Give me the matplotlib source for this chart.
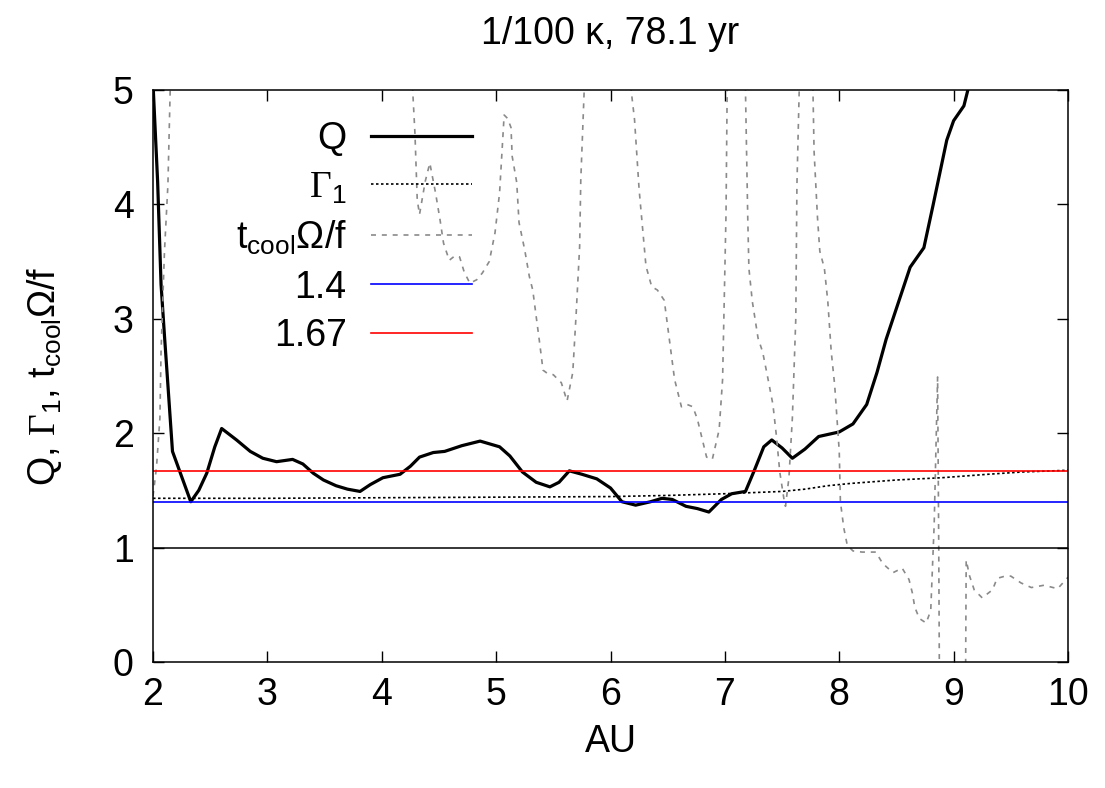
import numpy as np
import matplotlib
matplotlib.use('Agg')
import matplotlib.pyplot as plt

plt.rcParams['font.family'] = ['Liberation Sans', 'DejaVu Sans']
plt.rcParams['mathtext.fontset'] = 'custom'
plt.rcParams['mathtext.rm'] = 'Liberation Sans'
plt.rcParams['mathtext.it'] = 'Liberation Sans:italic'
plt.rcParams['mathtext.bf'] = 'Liberation Sans:bold'
plt.rcParams['mathtext.sf'] = 'Liberation Serif'   # serif Gamma like the original

FS = 27

# Toomre Q
q_r = [2.00, 2.04, 2.07, 2.10, 2.13, 2.17, 2.25, 2.33, 2.40, 2.47, 2.54, 2.60, 2.73, 2.85,
       2.96, 3.08, 3.15, 3.22, 3.31, 3.40, 3.49, 3.60, 3.70, 3.81, 3.90, 4.01, 4.16, 4.25,
       4.33, 4.45, 4.55, 4.70, 4.86, 5.03, 5.12, 5.23, 5.35, 5.47, 5.55, 5.64, 5.75, 5.88,
       6.00, 6.10, 6.22, 6.35, 6.45, 6.54, 6.66, 6.76, 6.86, 6.97, 7.06, 7.18, 7.26, 7.34,
       7.41, 7.50, 7.59, 7.70, 7.82, 8.00, 8.12, 8.24, 8.33, 8.41, 8.52, 8.62, 8.74, 8.82,
       8.94, 9.00, 9.09, 9.13]
q_val = [5.05, 4.20, 3.30, 2.85, 2.42, 1.84, 1.62, 1.40, 1.50, 1.65, 1.88, 2.04, 1.94, 1.84,
         1.78, 1.75, 1.76, 1.77, 1.73, 1.65, 1.59, 1.54, 1.51, 1.49, 1.55, 1.61, 1.64, 1.71,
         1.79, 1.83, 1.84, 1.89, 1.93, 1.88, 1.80, 1.66, 1.57, 1.53, 1.57, 1.67, 1.64, 1.60,
         1.52, 1.40, 1.37, 1.40, 1.43, 1.42, 1.36, 1.34, 1.31, 1.42, 1.47, 1.49, 1.68, 1.88,
         1.94, 1.87, 1.78, 1.86, 1.97, 2.01, 2.08, 2.25, 2.53, 2.82, 3.15, 3.45, 3.62, 3.99,
         4.56, 4.73, 4.86, 5.02]

# Gamma_1
g_r = [2.0, 3.0, 4.0, 5.0, 6.0, 6.5, 7.0, 7.5, 7.7, 7.9, 8.1, 8.5, 8.9, 9.3, 9.6, 10.0]
g_val = [1.43, 1.43, 1.435, 1.44, 1.445, 1.455, 1.47, 1.49, 1.51, 1.54, 1.56, 1.59, 1.61,
         1.64, 1.66, 1.675]

# t_cool Omega / f  (values of 8 / -1 are off the plotted range)
t_r = [2.00, 2.03, 2.06, 2.07, 2.10, 2.13, 2.15, 2.20, 4.20, 4.27, 4.29, 4.31, 4.33, 4.38,
       4.42, 4.47, 4.51, 4.54, 4.59, 4.64, 4.68, 4.72, 4.77, 4.83, 4.88, 4.94, 4.99, 5.03,
       5.07, 5.10, 5.13, 5.14, 5.18, 5.20, 5.25, 5.29, 5.32, 5.35, 5.38, 5.41, 5.45, 5.50,
       5.57, 5.62, 5.67, 5.70, 5.73, 5.74, 5.77, 5.85, 6.10, 6.18, 6.21, 6.25, 6.31, 6.36,
       6.41, 6.47, 6.53, 6.56, 6.62, 6.67, 6.72, 6.76, 6.84, 6.89, 6.95, 6.98, 7.01, 7.02,
       7.08, 7.15, 7.18, 7.20, 7.21, 7.24, 7.29, 7.33, 7.37, 7.42, 7.45, 7.48, 7.52, 7.53,
       7.56, 7.59, 7.62, 7.63, 7.65, 7.70, 7.75, 7.77, 7.78, 7.81, 7.83, 7.87, 7.90, 7.93,
       7.96, 7.98, 8.00, 8.01, 8.04, 8.07, 8.12, 8.20, 8.32, 8.38, 8.47, 8.55, 8.61, 8.64,
       8.66, 8.70, 8.76, 8.80, 8.83, 8.86, 8.87, 8.88, 9.10, 9.11, 9.14, 9.18, 9.25, 9.34,
       9.38, 9.45, 9.50, 9.59, 9.68, 9.79, 9.91, 10.0]
t_val = [1.45, 1.70, 2.13, 2.71, 3.59, 4.17, 5.0, 8, 8, 5.0, 4.62, 4.04, 3.91, 4.20,
         4.36, 4.10, 3.86, 3.66, 3.51, 3.55, 3.54, 3.41, 3.31, 3.34, 3.40, 3.50, 3.75, 4.10,
         4.78, 4.75, 4.67, 4.42, 4.19, 3.84, 3.60, 3.37, 3.25, 3.02, 2.79, 2.55, 2.52, 2.51,
         2.44, 2.28, 2.53, 3.05, 3.63, 4.21, 5.0, 8, 8, 5.0, 4.74, 4.13, 3.46, 3.28,
         3.25, 3.16, 2.70, 2.47, 2.23, 2.25, 2.23, 2.12, 1.79, 1.77, 2.03, 2.47, 3.92, 5.0,
         8, 8, 5.0, 3.88, 3.44, 3.15, 2.83, 2.71, 2.51, 2.25, 1.98, 1.66, 1.40, 1.36,
         1.61, 2.13, 3.00, 4.17, 5.0, 8, 8, 5.0, 4.46, 3.88, 3.59, 3.44, 3.15, 2.71,
         2.42, 2.13, 1.84, 1.40, 1.17, 1.02, 0.97, 0.96, 0.96, 0.86, 0.78, 0.82, 0.72, 0.60,
         0.48, 0.38, 0.34, 0.45, 1.20, 2.49, 1.00, -1, -1, 0.89, 0.75, 0.63, 0.56, 0.63,
         0.73, 0.75, 0.75, 0.69, 0.65, 0.67, 0.64, 0.74]

ref_levels = [1.4, 1.67]
ref_colors = ['#0000ff', '#ff0000']
x_ticks = [2, 3, 4, 5, 6, 7, 8, 9, 10]
y_ticks = [0, 1, 2, 3, 4, 5]

fig = plt.figure(figsize=(11.05, 7.88), dpi=100)
ax = fig.add_axes([0.1385, 0.16, 0.828, 0.726])

lq, = ax.plot(q_r, q_val, color='k', lw=2.3)
lg, = ax.plot(g_r, g_val, color='k', lw=1.2, dashes=(1.5, 1.5))
lt, = ax.plot(t_r, t_val, color='#8a8a8a', lw=1.2, dashes=(3.0, 3.5))
l14 = ax.axhline(ref_levels[0], color=ref_colors[0], lw=1.2)
l167 = ax.axhline(ref_levels[1], color=ref_colors[1], lw=1.2)
ax.axhline(1, color='k', lw=1.1)

ax.set_xlim(2, 10)
ax.set_ylim(0, 5)
ax.set_xticks(x_ticks)
ax.set_yticks(y_ticks)
ax.tick_params(direction='in', top=True, right=True, length=8, width=1,
               labelsize=FS)
ax.tick_params(axis='x', pad=11)
ax.tick_params(axis='y', pad=14)
for s in ax.spines.values():
    s.set_linewidth(1.1)

ax.set_xlabel('AU', fontsize=FS, labelpad=8)
ax.set_ylabel(r'Q, $\mathsf{\Gamma}_1$, t$_{\mathrm{cool}}$Ω/f', fontsize=FS, labelpad=35)
ax.set_title('1/100 κ, 78.1 yr', fontsize=FS, pad=33)

ax.legend([lq, lg, lt, l14, l167],
          ['Q', r'$\mathsf{\Gamma}_1$', r't$_{\mathrm{cool}}$Ω/f', '1.4', '1.67'],
          loc='upper right', bbox_to_anchor=(0.349, 0.946), markerfirst=False,
          frameon=False, fontsize=FS, handlelength=2.7, handletextpad=0.65,
          labelspacing=0.34, borderpad=0, borderaxespad=0)

plt.savefig('out.png', dpi=100)
